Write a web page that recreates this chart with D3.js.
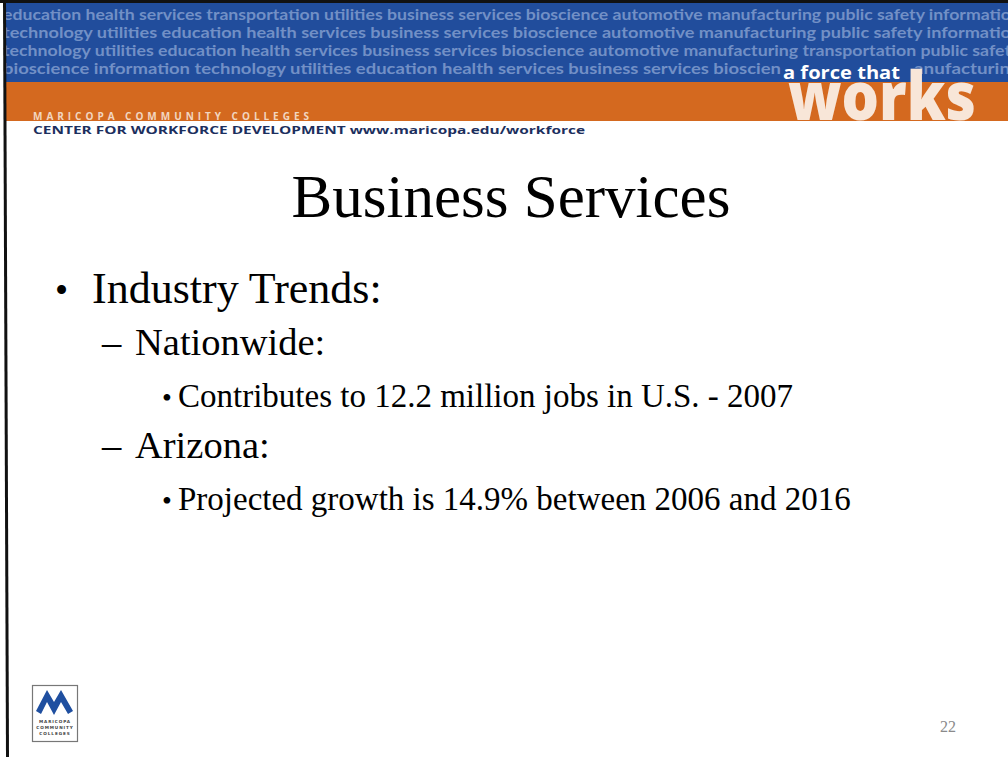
<!DOCTYPE html>
<html><head><meta charset="utf-8">
<script src="https://cdn.jsdelivr.net/npm/d3@7/dist/d3.min.js"></script>
<style>html,body{margin:0;padding:0;background:#fff;}svg{display:block;}</style>
</head><body>
<script>
// ---- data ----
const bannerLines = [
  "education health services transportation utilities business services bioscience automotive manufacturing public safety informatio",
  "technology utilities education health services business services bioscience automotive manufacturing public safety informatio",
  "technology utilities education health services business services bioscience automotive manufacturing transportation public safet",
  "bioscience information technology utilities education health services business services bioscien"
];
const bannerTail = "anufacturin";
const orgName = "MARICOPA COMMUNITY COLLEGES";
const centerName = "CENTER FOR WORKFORCE DEVELOPMENT www.maricopa.edu/workforce";
const tagSmall = "a force that";
const tagBig = "works";
const title = "Business Services";
const bulletTexts = [
  "Industry Trends:",
  "Nationwide:",
  "Contributes to 12.2 million jobs in U.S. - 2007",
  "Arizona:",
  "Projected growth is 14.9% between 2006 and 2016"
];
const bulletLevels = [0, 1, 2, 1, 2];
const logoLines = ["MARICOPA", "COMMUNITY", "COLLEGES"];
const pageNumber = "22";

// ---- layout ----
const W = 1008, H = 757;
const svg = d3.select("body").append("svg").attr("width", W).attr("height", H);

svg.append("rect").attr("width", W).attr("height", H).attr("fill", "#fff");

// header bands
svg.append("rect").attr("x", 6).attr("y", 0).attr("width", W).attr("height", 82).attr("fill", "#214d9c");
svg.append("rect").attr("x", 6).attr("y", 82).attr("width", W).attr("height", 39).attr("fill", "#d4691f");

const bandY = d3.scalePoint().domain(d3.range(bannerLines.length)).range([20, 74]);
const bandLen = d3.scaleOrdinal().domain(d3.range(bannerLines.length)).range([1008, 1008, 1008, 778]);
svg.append("g").selectAll("text").data(bannerLines).join("text")
  .attr("x", 3).attr("y", (d, i) => bandY(i))
  .attr("textLength", (d, i) => bandLen(i)).attr("lengthAdjust", "spacingAndGlyphs")
  .attr("font-family", "Lato, 'Open Sans', sans-serif").attr("font-weight", 700)
  .attr("font-size", 15.5).attr("fill", "#7290c6")
  .text(d => d);
svg.append("text").attr("x", 914).attr("y", bandY(3))
  .attr("textLength", 96).attr("lengthAdjust", "spacingAndGlyphs")
  .attr("font-family", "Lato, 'Open Sans', sans-serif").attr("font-weight", 700)
  .attr("font-size", 15.5).attr("fill", "#7290c6").text(bannerTail);

// "works" tag
svg.append("text").attr("x", 788).attr("y", 120)
  .attr("textLength", 188).attr("lengthAdjust", "spacingAndGlyphs")
  .attr("font-family", "'Open Sans', Lato, sans-serif").attr("font-weight", 800)
  .attr("font-size", 68).attr("fill", "#f8e6d8").text(tagBig);
svg.append("text").attr("x", 783).attr("y", 79)
  .attr("textLength", 117).attr("lengthAdjust", "spacingAndGlyphs")
  .attr("font-family", "'Open Sans', Lato, sans-serif").attr("font-weight", 700)
  .attr("font-size", 18).attr("fill", "#ffffff").text(tagSmall);

svg.append("text").attr("x", 33).attr("y", 120)
  .attr("textLength", 276).attr("lengthAdjust", "spacing")
  .attr("font-family", "'Open Sans', sans-serif").attr("font-weight", 700)
  .attr("font-size", 10).attr("fill", "#f2d6c0").text(orgName);
svg.append("text").attr("x", 33).attr("y", 134)
  .attr("textLength", 552).attr("lengthAdjust", "spacingAndGlyphs")
  .attr("font-family", "'Open Sans', sans-serif").attr("font-weight", 700)
  .attr("font-size", 11).attr("fill", "#1c2f5e").text(centerName);

// borders
svg.append("rect").attr("x", 0).attr("y", 0).attr("width", W).attr("height", 3).attr("fill", "#111");
svg.append("line").attr("x1", 4.5).attr("y1", 0).attr("x2", 7.5).attr("y2", H)
  .attr("stroke", "#111").attr("stroke-width", 3);

// title
svg.append("text").attr("x", 511).attr("y", 217).attr("text-anchor", "middle")
  .attr("font-family", "'Liberation Serif', 'Times New Roman', serif")
  .attr("font-size", 61).attr("fill", "#000").text(title);

// bullets
const rowY = d3.scalePoint().domain(d3.range(bulletTexts.length)).range([303, 510]);
const textX = d3.scaleOrdinal().domain([0, 1, 2]).range([92, 135, 178]);
const markX = d3.scaleOrdinal().domain([0, 1, 2]).range([55, 102, 162]);
const fontSz = d3.scaleOrdinal().domain([0, 1, 2]).range([44, 38.5, 33]);
const markers = d3.scaleOrdinal().domain([0, 1, 2]).range(["\u2022", "\u2013", "\u2022"]);

const rows = svg.append("g").attr("font-family", "'Liberation Serif', 'Times New Roman', serif").attr("fill", "#000")
  .selectAll("g").data(bulletTexts).join("g");
rows.append("text").attr("x", (d, i) => markX(bulletLevels[i])).attr("y", (d, i) => rowY(i))
  .attr("font-size", (d, i) => fontSz(bulletLevels[i]) * (bulletLevels[i] === 1 ? 1 : 0.85))
  .text((d, i) => markers(bulletLevels[i]));
rows.append("text").attr("x", (d, i) => textX(bulletLevels[i])).attr("y", (d, i) => rowY(i))
  .attr("font-size", (d, i) => fontSz(bulletLevels[i]))
  .text(d => d);

// logo
const logo = svg.append("g").attr("transform", "translate(32,685)");
logo.append("rect").attr("x", 0.5).attr("y", 0.5).attr("width", 45).attr("height", 56)
  .attr("fill", "#fff").attr("stroke", "#777").attr("stroke-width", 1.2);
const mPts = [[4,26],[15,5],[22,17],[29,5],[41,26],[36,29],[29,17],[22,30],[15,17],[9,29]];
logo.append("path").attr("d", d3.line()(mPts) + "Z").attr("fill", "#1f4fa0");
const logoY = d3.scalePoint().domain(d3.range(logoLines.length)).range([38, 50]);
logo.selectAll("text.l").data(logoLines).join("text")
  .attr("x", 23).attr("y", (d, i) => logoY(i)).attr("text-anchor", "middle")
  .attr("font-family", "'DejaVu Sans', sans-serif").attr("font-weight", 700)
  .attr("font-size", 4.2).attr("letter-spacing", 0.9).attr("fill", "#444").text(d => d);

// page number
svg.append("text").attr("x", 948).attr("y", 732).attr("text-anchor", "middle")
  .attr("font-family", "'Liberation Serif', serif").attr("font-size", 16)
  .attr("fill", "#8a8a8a").text(pageNumber);
</script>
</body></html>
